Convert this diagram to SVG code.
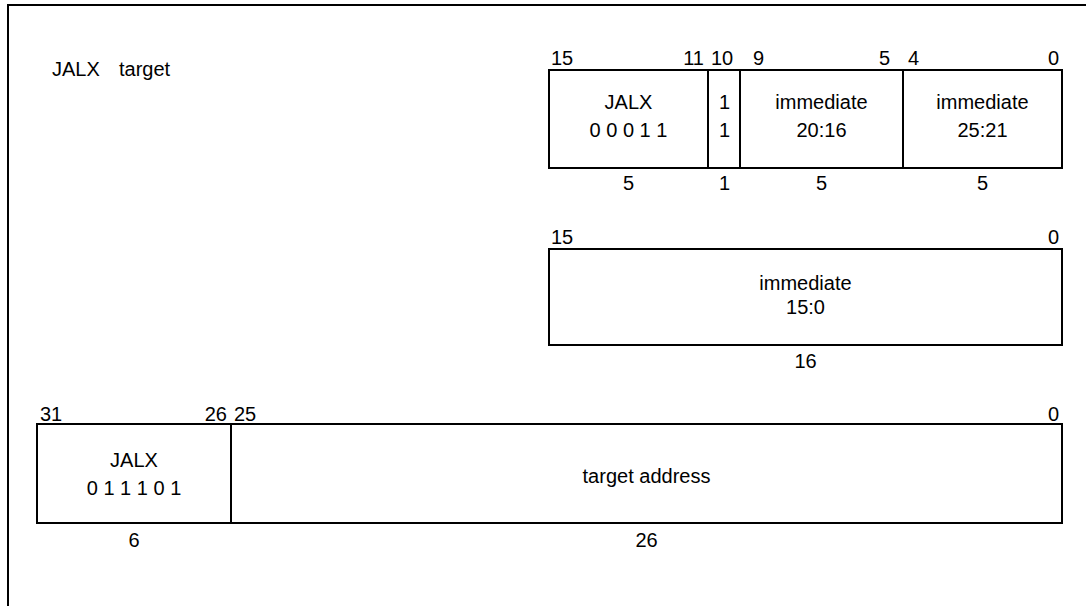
<svg xmlns="http://www.w3.org/2000/svg" width="1086" height="606" viewBox="0 0 1086 606">
<style>
.box{fill:#fff;stroke:#000;stroke-width:2}
.div{stroke:#000;stroke-width:2}
text{font-family:"Liberation Sans",Arial,sans-serif;font-size:20px;fill:#000}
.m{text-anchor:middle}
.e{text-anchor:end}
</style>
<rect x="0" y="0" width="1086" height="606" fill="#fff"/>
<rect id="frame" x="8" y="5" width="1200" height="700" fill="none" stroke="#000" stroke-width="2"/>
<g id="title">
<text x="52" y="76">JALX</text>
<text x="119" y="76">target</text>
</g>
<g id="fmt16a">
<rect class="box" x="549" y="70" width="513" height="98"/>
<line class="div" x1="708" y1="70" x2="708" y2="168"/>
<line class="div" x1="740" y1="70" x2="740" y2="168"/>
<line class="div" x1="903" y1="70" x2="903" y2="168"/>
<text x="551" y="65">15</text>
<text class="e" x="704" y="65">11</text>
<text x="711" y="65">10</text>
<text x="753" y="65">9</text>
<text class="e" x="890" y="65">5</text>
<text x="908" y="65">4</text>
<text class="e" x="1059" y="65">0</text>
<text class="m" x="628.5" y="109">JALX</text>
<text class="m" x="628.5" y="137">0 0 0 1 1</text>
<text class="m" x="724.5" y="109">1</text>
<text class="m" x="724.5" y="137">1</text>
<text class="m" x="821.5" y="109">immediate</text>
<text class="m" x="821.5" y="137">20:16</text>
<text class="m" x="982.5" y="109">immediate</text>
<text class="m" x="982.5" y="137">25:21</text>
<text class="m" x="628.5" y="190">5</text>
<text class="m" x="724.5" y="190">1</text>
<text class="m" x="821.5" y="190">5</text>
<text class="m" x="982.5" y="190">5</text>
</g>
<g id="fmt16b">
<rect class="box" x="549" y="249" width="513" height="96"/>
<text x="551" y="244">15</text>
<text class="e" x="1059" y="244">0</text>
<text class="m" x="805.5" y="290">immediate</text>
<text class="m" x="805.5" y="314">15:0</text>
<text class="m" x="805.5" y="368">16</text>
</g>
<g id="fmt32">
<rect class="box" x="37" y="424" width="1025" height="99"/>
<line class="div" x1="231" y1="424" x2="231" y2="523"/>
<text x="40" y="421">31</text>
<text class="e" x="227" y="421">26</text>
<text x="234" y="421">25</text>
<text class="e" x="1059" y="421">0</text>
<text class="m" x="134" y="467">JALX</text>
<text class="m" x="134" y="495">0 1 1 1 0 1</text>
<text class="m" x="646.5" y="483">target address</text>
<text class="m" x="134" y="547">6</text>
<text class="m" x="646.5" y="547">26</text>
</g>
<g id="connectors"></g>
</svg>
